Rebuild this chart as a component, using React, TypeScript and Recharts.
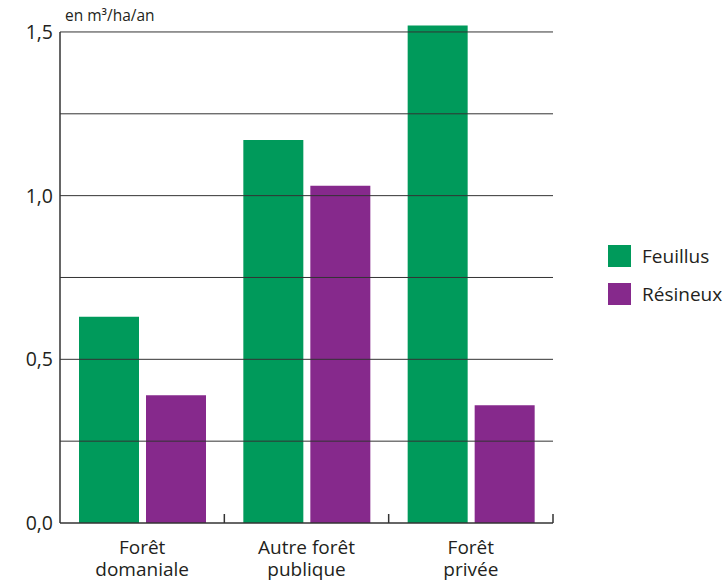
import React from "react";
import { BarChart, Bar, XAxis, YAxis, ReferenceLine } from "recharts";

const categories = ["Forêt\ndomaniale", "Autre forêt\npublique", "Forêt\nprivée"];
const feuillus = [0.63, 1.17, 1.52];
const resineux = [0.39, 1.03, 0.36];
const yTicks = [0, 0.25, 0.5, 0.75, 1.0, 1.25, 1.5];
const yMax = 1.55;
const seriesNames = ["Feuillus", "Résineux"];
const colors = ["#009A5B", "#86298C"];
const unitLabel = "en m³/ha/an";

const data = categories.map((c, i) => ({ cat: c, f: feuillus[i], r: resineux[i] }));

const W = 728;
const H = 581;
const xAxisHeight = 58;
const margin = { top: 15.6, right: 175, bottom: 0, left: 0 };
const yAxisWidth = 60;
const plotH = H - margin.top - margin.bottom - xAxisHeight;
const pxPerUnit = plotH / yMax;
const tickUnits = 9 / pxPerUnit;
const axisTop = yTicks[yTicks.length - 1];
const FONT = "'Open Sans', sans-serif";
const TEXT = "#231F20";

const XTick = (props: any) => {
  const { x, y, payload } = props;
  const lines = String(payload.value).split("\n");
  return (
    <g>
      {lines.map((l, i) => (
        <text key={i} x={x} y={y + 31 + i * 22} textAnchor="middle" fontFamily={FONT} fontSize={19} fill={TEXT}>
          {l}
        </text>
      ))}
    </g>
  );
};

const YTick = (props: any) => {
  const { x, y, payload } = props;
  const v = payload.value as number;
  if (Math.abs((v * 2) % 1) > 1e-6) return <g />;
  return (
    <text x={x - 7} y={y} dy={7} textAnchor="end" fontFamily={FONT} fontSize={19.5} fill={TEXT}>
      {v.toFixed(1).replace(".", ",")}
    </text>
  );
};

export default function App() {
  return (
    <div style={{ position: "absolute", left: 0, top: 0, width: W, height: H, background: "#fff" }}>
      <div style={{ position: "absolute", left: 65, top: 5, fontFamily: FONT, fontSize: 15.5, color: TEXT, lineHeight: "20px" }}>
        {unitLabel}
      </div>
      <div style={{ position: "absolute", left: 608, top: 245, fontFamily: FONT, fontSize: 19, color: TEXT }}>
        {seriesNames.map((n, i) => (
          <div key={n} style={{ display: "flex", alignItems: "center", height: 22, marginBottom: 16 }}>
            <div style={{ width: 23, height: 22, background: colors[i], marginRight: 11 }} />
            <span style={{ lineHeight: "22px" }}>{n}</span>
          </div>
        ))}
      </div>
      <BarChart width={W} height={H} data={data} margin={margin} barGap={7} barSize={60}>
        {yTicks.slice(1).map((v) => (
          <ReferenceLine key={v} y={v} stroke="#333" strokeWidth={1} />
        ))}
        <XAxis
          dataKey="cat"
          height={xAxisHeight}
          interval={0}
          axisLine={{ stroke: "#333", strokeWidth: 1.5 }}
          tickLine={false}
          tickSize={0}
          tickMargin={0}
          tick={<XTick />}
        />
        <YAxis
          width={yAxisWidth}
          domain={[0, yMax]}
          ticks={yTicks}
          interval={0}
          axisLine={false}
          tickLine={false}
          tickSize={0}
          tickMargin={0}
          tick={<YTick />}
        />
        <Bar dataKey="f" name={seriesNames[0]} fill={colors[0]} isAnimationActive={false} />
        <Bar dataKey="r" name={seriesNames[1]} fill={colors[1]} isAnimationActive={false} />
        <ReferenceLine
          segment={[{ x: categories[0], y: 0 }, { x: categories[0], y: axisTop }]}
          position="start"
          stroke="#333"
          strokeWidth={1.5}
        />
        {categories.map((c) => (
          <ReferenceLine
            key={c}
            segment={[{ x: c, y: 0 }, { x: c, y: tickUnits }]}
            position="end"
            stroke="#333"
            strokeWidth={1.5}
          />
        ))}
      </BarChart>
    </div>
  );
}
